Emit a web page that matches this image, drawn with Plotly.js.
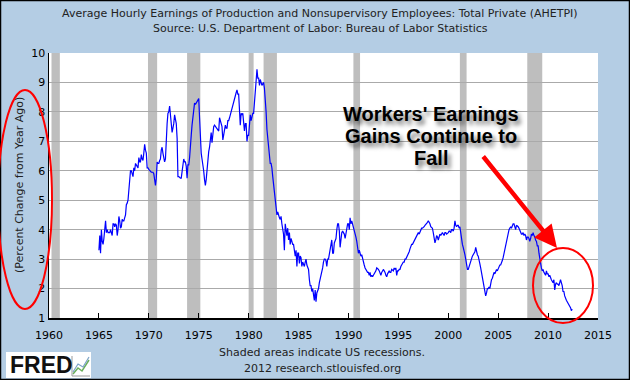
<!DOCTYPE html>
<html><head><meta charset="utf-8">
<script src="https://cdn.plot.ly/plotly-3.0.1.min.js"></script>
<style>html,body{margin:0;padding:0;background:#B4CDE4;}#chart{width:630px;height:380px;}</style>
</head><body><div id="chart"></div>
<script>
// Monthly % change from year ago, starting Jan 1965
const startYear = 1965;
const pct1960s = [
  3.3,3.8,3.2,4.0,3.6,3.5,3.7,4.0,4.3,3.9,4.0,3.9,
  3.9,3.9,4.0,3.9,3.8,4.2,4.2,4.1,4.2,4.15,3.8,4.0,
  4.45,4.3,4.05,4.1,4.35,4.3,4.3,4.4,4.5,4.85,4.9,5.0,
  5.35,5.7,6.0,6.0,5.9,5.8,6.1,6.0,6.25,6.2,6.15,6.1,
  6.45,6.3,6.3,6.55,6.4,6.35,6.6,6.9,6.7,6.6,6.1,6.1
];
const pct1970s = [
  6.05,6.0,6.0,5.95,5.95,5.95,5.9,5.7,5.5,5.75,6.3,6.25,
  6.25,6.35,6.4,6.7,6.8,6.6,6.35,6.3,6.4,7.3,7.6,7.95,
  8.0,8.2,7.85,7.6,7.3,7.45,7.6,7.9,7.75,7.6,7.1,5.8,
  5.8,5.75,5.75,5.75,6.0,6.25,6.4,6.3,6.3,6.15,5.75,6.2,
  6.2,6.45,6.7,7.2,7.55,7.8,8.0,8.3,8.25,8.3,8.35,8.45,
  8.45,7.8,7.0,6.6,6.4,6.25,6.0,5.7,5.5,5.7,6.15,6.5,
  6.65,6.8,7.0,7.3,6.95,7.45,7.5,7.55,7.5,7.45,7.4,7.35,
  7.35,7.8,7.7,7.6,7.5,7.05,7.2,7.3,7.55,7.45,7.45,7.7,
  7.7,7.8,7.9,8.1,8.2,8.3,8.4,8.45,8.6,8.65,8.75,8.6,
  8.6,8.0,7.55,7.95,7.9,7.95,7.7,7.35,7.6,7.6,7.0,7.2
];
const pct1980s = [
  7.2,7.75,7.9,7.7,7.9,7.95,7.95,8.25,8.75,9.05,9.45,9.15,
  9.15,8.9,9.1,9.0,8.9,8.95,9.0,8.8,8.5,8.0,7.4,7.05,
  6.95,6.6,6.25,6.25,6.1,5.8,5.5,5.3,5.15,4.85,4.5,4.6,
  4.45,4.4,4.35,4.45,4.2,4.0,3.85,3.3,4.2,4.0,3.8,4.05,
  3.65,3.9,3.5,3.7,3.6,3.5,3.5,3.25,3.1,3.3,2.75,3.2,
  3.2,2.85,3.1,3.05,2.75,2.9,2.85,2.75,2.9,3.0,2.8,2.75,
  2.65,2.3,2.1,2.1,1.9,2.0,1.8,1.6,1.95,1.55,1.85,1.95,
  2.0,2.2,2.3,2.45,2.55,2.7,2.9,3.0,3.0,2.95,2.75,3.0,
  3.0,3.2,3.3,3.5,3.65,3.2,3.2,3.55,3.65,3.7,4.0,4.2,
  4.2,3.95,3.4,3.85,3.9,3.95,3.9,3.85,3.7,3.9,4.1,4.2
];
const pct1990s = [
  4.2,4.0,4.4,4.2,4.3,4.2,4.1,4.0,3.85,3.75,3.6,3.45,
  3.2,3.3,3.15,3.1,3.15,3.0,2.85,2.8,2.7,2.65,2.6,2.55,
  2.55,2.45,2.55,2.4,2.45,2.4,2.45,2.5,2.55,2.6,2.7,2.65,
  2.65,2.6,2.55,2.45,2.55,2.6,2.65,2.6,2.55,2.45,2.4,2.5,
  2.55,2.6,2.55,2.55,2.65,2.6,2.6,2.7,2.65,2.7,2.45,2.6,
  2.6,2.65,2.65,2.75,2.8,2.85,2.9,2.9,3.0,3.0,3.05,3.1,
  3.2,3.25,3.35,3.45,3.5,3.5,3.55,3.6,3.65,3.7,3.8,3.85,
  3.9,3.85,3.9,4.0,4.05,4.05,4.1,4.1,4.15,4.2,4.2,4.25,
  4.3,4.25,4.2,4.1,4.05,4.05,3.9,3.7,3.55,3.65,3.8,3.75,
  3.65,3.75,3.85,3.8,3.85,3.9,3.85,3.8,3.9,3.9,3.85,3.9
];
const pct2000s = [
  3.9,3.95,3.95,3.9,4.0,4.0,3.95,4.05,4.3,4.15,4.1,4.15,
  4.15,4.05,4.1,3.9,3.65,3.5,3.4,3.3,3.15,3.0,2.8,2.65,
  2.65,2.75,2.85,2.9,3.0,3.1,3.15,3.2,3.25,3.4,3.25,3.15,
  3.1,3.0,2.85,2.7,2.55,2.45,2.25,2.1,1.9,1.75,1.85,2.0,
  2.0,2.05,2.0,2.2,2.3,2.35,2.45,2.55,2.5,2.6,2.65,2.6,
  2.7,2.75,2.8,2.8,2.85,2.95,3.05,3.2,3.3,3.5,3.65,3.8,
  3.9,4.0,4.05,4.1,4.05,4.15,4.2,4.2,4.1,4.0,4.15,4.1,
  4.1,4.05,4.0,3.9,3.85,3.85,3.9,3.8,3.85,3.8,3.65,3.75,
  3.75,3.7,3.6,3.7,3.85,3.8,3.9,3.8,3.75,3.65,3.6,3.45,
  3.45,3.2,3.0,2.8,2.7,2.6,2.65,2.55,2.5,2.45,2.6,2.5
];
const pct2010s = [
  2.5,2.4,2.45,2.35,2.3,2.25,2.2,2.3,1.95,2.15,2.2,2.15,
  2.15,2.1,2.25,2.3,2.2,2.1,1.9,1.9,1.75,1.65,1.6,1.55,
  1.5,1.45,1.4,1.35,1.25,1.3
];
// NBER recessions (peak to trough)
const recStart = ['1960-04-01','1969-12-01','1973-11-01','1980-01-01','1981-07-01','1990-07-01','2001-03-01','2007-12-01'];
const recEnd   = ['1961-02-01','1970-11-01','1975-03-01','1980-07-01','1982-11-01','1991-03-01','2001-11-01','2009-06-01'];
const yTicks = [1,2,3,4,5,6,7,8,9,10];
const xTickYears = [1960,1965,1970,1975,1980,1985,1990,1995,2000,2005,2010,2015];

const values = [].concat(pct1960s, pct1970s, pct1980s, pct1990s, pct2000s, pct2010s);
const dates = values.map((v, i) => {
  const y = startYear + Math.floor(i / 12), m = (i % 12) + 1;
  return y + '-' + (m < 10 ? '0' + m : m) + '-01';
});

const L = 49, T = 53, W = 549, H = 265;
const px = x => (x - L) / W;
const py = y => (T + H - y) / H;

const shapes = recStart.map((s, i) => ({
  type: 'rect', xref: 'x', yref: 'paper', x0: s, x1: recEnd[i], y0: 0, y1: 1,
  fillcolor: '#BEBEBE', line: {width: 0}, layer: 'between'
}));
// outer border
shapes.push({type: 'rect', xref: 'paper', yref: 'paper', x0: px(0.5), x1: px(629.5), y0: py(379.5), y1: py(0.5),
  line: {color: '#000', width: 1.5}, fillcolor: 'rgba(0,0,0,0)', layer: 'above'});
// red ellipses
shapes.push({type: 'circle', xref: 'paper', yref: 'paper', x0: px(-2), x1: px(52), y0: py(309), y1: py(90),
  line: {color: '#FF0000', width: 2}, layer: 'above'});
shapes.push({type: 'circle', xref: 'paper', yref: 'paper', x0: px(533), x1: px(593), y0: py(323), y1: py(248),
  line: {color: '#FF0000', width: 2}, layer: 'above'});
// FRED logo box
shapes.push({type: 'rect', xref: 'paper', yref: 'paper', x0: px(6), x1: px(91), y0: py(378), y1: py(352),
  fillcolor: '#FFFFFF', line: {width: 0}, layer: 'below'});
shapes.push({type: 'path', xref: 'paper', yref: 'paper',
  path: 'M' + px(73) + ',' + py(374) + 'L' + px(78) + ',' + py(368) + 'L' + px(82) + ',' + py(371) + 'L' + px(89) + ',' + py(360),
  line: {color: '#6BAF5B', width: 1.5}, layer: 'above'});
shapes.push({type: 'path', xref: 'paper', yref: 'paper',
  path: 'M' + px(73) + ',' + py(372) + 'L' + px(78) + ',' + py(364) + 'L' + px(83) + ',' + py(367) + 'L' + px(89) + ',' + py(357),
  line: {color: '#7DA3C8', width: 1.2}, layer: 'above'});
shapes.push({type: 'path', xref: 'paper', yref: 'paper',
  path: 'M' + px(72) + ',' + py(356) + 'L' + px(72) + ',' + py(376) + 'L' + px(90) + ',' + py(376),
  line: {color: '#999', width: 1}, layer: 'above'});

const txtFont = {family: 'DejaVu Sans', size: 11, color: '#222'};
const bigFont = {family: 'Liberation Sans, Arial', size: 20, color: '#000', weight: 'bold',
  shadow: '3px 4px 4px rgba(0,0,0,0.55)'};
const ann = (text, x, y, font, extra) => Object.assign({text: text, x: px(x), y: py(y), xref: 'paper', yref: 'paper',
  xanchor: 'center', yanchor: 'middle', showarrow: false, font: font}, extra || {});
const annotations = [
  ann('Average Hourly Earnings of Production and Nonsupervisory Employees: Total Private (AHETPI)', 320, 13, txtFont),
  ann('Source: U.S. Department of Labor: Bureau of Labor Statistics', 320, 28, txtFont),
  ann('(Percent Change from Year Ago)', 19, 185, txtFont, {textangle: -90}),
  ann('Shaded areas indicate US recessions.', 322, 352, txtFont),
  ann('2012 research.stlouisfed.org', 322, 368, txtFont),
  ann('FRED', 8, 365, {family: 'Liberation Sans, Arial', size: 23, color: '#111', weight: 'bold'}, {xanchor: 'left'}),
  ann("Workers' Earnings", 431, 114, bigFont),
  ann('Gains Continue to', 431, 136, bigFont),
  ann('Fall', 431, 158, bigFont),
  {text: '', x: px(557), y: py(248), xref: 'paper', yref: 'paper', showarrow: true,
   ax: -75, ay: -93, arrowhead: 2, arrowsize: 1, arrowwidth: 4.5, arrowcolor: '#FF0000'}
];

const trace = {x: dates, y: values, type: 'scatter', mode: 'lines',
  line: {color: '#0000FF', width: 1.2}, hoverinfo: 'skip'};

const layout = {
  width: 630, height: 380,
  margin: {l: L, r: 630 - L - W, t: T, b: 380 - T - H, pad: 0},
  paper_bgcolor: '#B4CDE4', plot_bgcolor: '#FFFFFF',
  showlegend: false,
  xaxis: {type: 'date', range: ['1960-01-01', '2015-01-01'],
    tickvals: xTickYears.map(y => y + '-01-01'), ticktext: xTickYears.map(String),
    ticks: 'inside', ticklen: 5, tickcolor: '#000', tickwidth: 1, ticklabelstandoff: 6,
    showgrid: false, showline: true, linecolor: '#000', linewidth: 1.5,
    tickfont: {family: 'DejaVu Sans', size: 11, color: '#000'}, zeroline: false},
  yaxis: {range: [1, 10], tickvals: yTicks, ticks: '', showgrid: true, gridcolor: '#AAAAAA', gridwidth: 1,
    showline: true, linecolor: '#000', linewidth: 1.5, zeroline: false,
    tickfont: {family: 'DejaVu Sans', size: 11, color: '#000'}},
  shapes: shapes, annotations: annotations
};
Plotly.newPlot('chart', [trace], layout, {staticPlot: true});
</script></body></html>
